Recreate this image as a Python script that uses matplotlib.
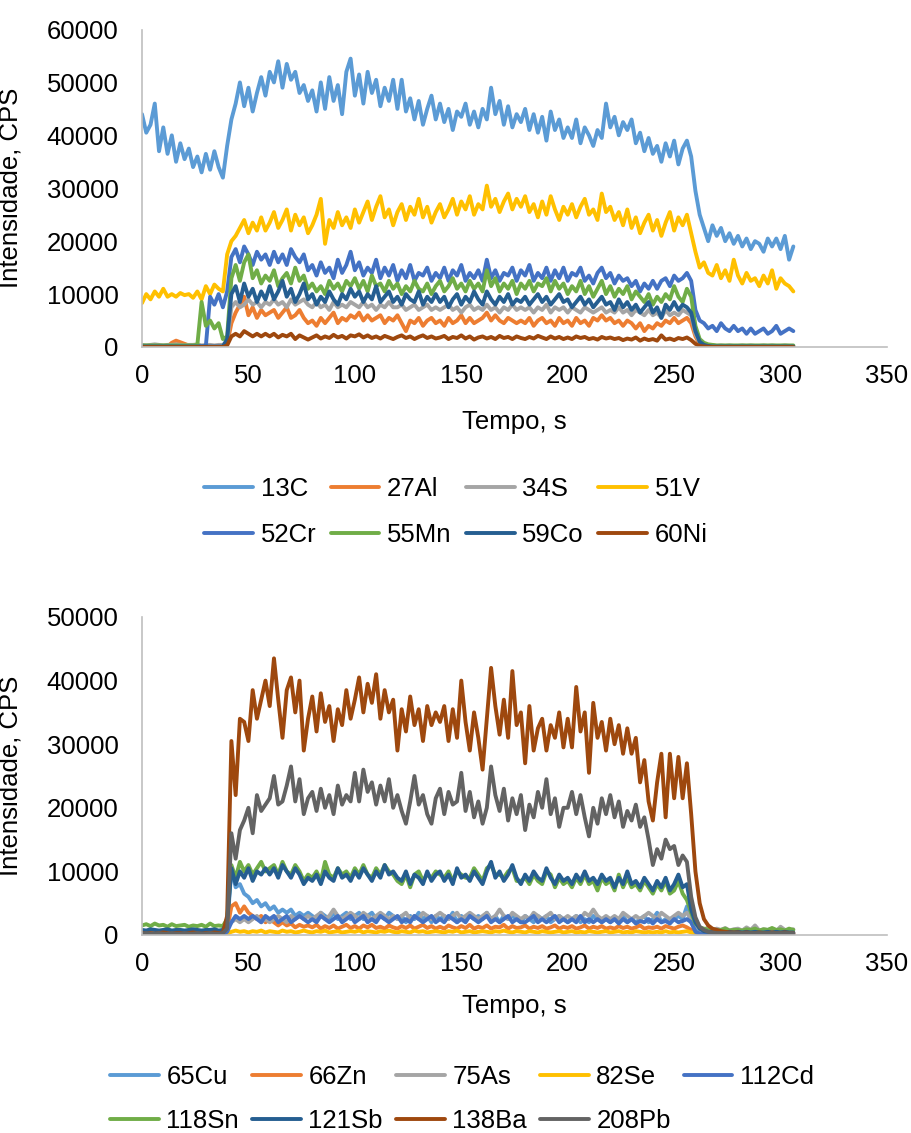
import numpy as np
import matplotlib
matplotlib.use("Agg")
import matplotlib.pyplot as plt

plt.rcParams['font.family'] = ['Liberation Sans', 'DejaVu Sans']

# Acquisition time (s), one reading every 2 s
time_s = np.arange(0, 307, 2)
KCPS = 1000  # values below are stored in thousands of counts per second

# ---------------- Panel 1 -----------------
c13 = [44.0, 40.5, 42.0, 46.0, 37.0, 41.5, 36.5, 40.0, 35.0, 38.5,
       35.5, 37.5, 34.0, 36.0, 33.0, 36.5, 33.5, 37.0, 34.0, 32.0,
       38.0, 43.0, 46.0, 50.0, 45.5, 49.0, 44.5, 48.0, 51.0, 47.5,
       52.0, 50.0, 54.0, 49.0, 53.5, 50.5, 52.0, 48.0, 49.5, 46.5,
       48.5, 44.5, 50.0, 45.0, 51.0, 46.5, 49.5, 44.0, 52.0, 54.5,
       47.5, 51.5, 46.0, 52.0, 48.0, 50.5, 45.5, 49.0, 46.5, 50.5,
       45.0, 50.5, 44.5, 47.0, 43.0, 46.5, 42.0, 45.0, 47.5, 43.0,
       46.0, 42.5, 45.0, 41.0, 44.5, 43.5, 46.0, 42.0, 44.5, 41.5,
       45.0, 43.0, 49.0, 44.0, 46.5, 42.0, 45.5, 41.5, 44.0, 42.5,
       45.0, 41.0, 44.0, 40.5, 43.5, 39.0, 44.5, 41.0, 43.0, 39.5,
       41.5, 39.5, 43.0, 38.5, 41.5, 40.0, 38.0, 41.0, 39.5, 46.0,
       41.5, 43.5, 40.0, 42.5, 41.0, 43.0, 38.5, 40.5, 37.0, 39.5,
       36.5, 38.0, 35.0, 38.5, 36.0, 39.0, 34.5, 37.5, 39.0, 36.0,
       29.5, 25.0, 22.5, 20.0, 23.0, 21.0, 22.5, 20.0, 21.5, 19.5,
       21.0, 19.0, 20.5, 18.5, 20.0, 19.5, 18.0, 20.5, 19.0, 20.5,
       18.5, 21.0, 16.5, 19.0]

al27 = [0.1, 0.1, 0.1, 0.1, 0.1, 0.1, 0.1, 0.8, 1.2, 0.9,
        0.6, 0.3, 0.2, 0.1, 0.1, 0.1, 0.1, 0.1, 0.1, 0.1,
        0.5, 4.5, 6.5, 8.0, 9.5, 6.0, 7.5, 5.5, 7.0, 6.0,
        6.5, 7.0, 5.5, 6.5, 7.5, 5.5, 6.0, 7.0, 5.5, 4.5,
        5.0, 4.0, 5.5, 4.5, 5.5, 6.5, 4.5, 5.5, 5.0, 6.0,
        5.5, 6.5, 5.0, 6.0, 5.0, 5.5, 6.0, 4.5, 5.5, 5.0,
        6.0, 4.5, 3.0, 5.0, 4.5, 5.5, 4.0, 5.0, 5.5, 4.5,
        5.0, 4.0, 5.5, 4.5, 5.0, 6.0, 4.5, 5.5, 4.5, 5.0,
        5.5, 6.5, 5.0, 6.0, 5.0, 4.5, 5.5, 5.0, 4.5, 5.0,
        4.5, 5.5, 4.0, 5.0, 5.5, 4.5, 5.0, 4.0, 5.5, 4.5,
        5.0, 4.0, 5.5, 4.5, 5.0, 4.0, 5.5, 5.0, 6.0, 5.0,
        5.5, 4.5, 5.0, 4.0, 5.0, 4.5, 3.5, 4.5, 3.0, 4.0,
        3.5, 4.5, 4.0, 5.0, 4.5, 5.5, 4.5, 5.0, 5.5, 4.5,
        2.0, 0.5, 0.2, 0.1, 0.1, 0.1, 0.1, 0.1, 0.1, 0.1,
        0.1, 0.1, 0.1, 0.1, 0.1, 0.1, 0.1, 0.1, 0.1, 0.1,
        0.1, 0.1, 0.1, 0.1]

s34 = [0.4, 0.3, 0.4, 0.5, 0.4, 0.3, 0.4, 0.4, 0.5, 0.4,
       0.3, 0.4, 0.4, 0.5, 0.3, 0.4, 0.4, 0.3, 0.4, 0.4,
       1.0, 7.5, 8.5, 7.5, 8.0, 9.0, 8.0, 8.5, 7.5, 8.5,
       8.0, 9.0, 8.0, 8.5, 7.5, 9.0, 8.0, 8.5, 9.0, 8.0,
       7.5, 8.5, 7.5, 8.0, 7.0, 8.5, 7.5, 8.0, 7.5, 8.5,
       8.0, 7.5, 8.5, 7.5, 8.0, 7.0, 8.0, 7.5, 8.5, 7.5,
       7.5, 8.0, 7.0, 7.5, 8.0, 7.0, 7.5, 8.0, 7.0, 7.5,
       7.0, 7.5, 8.0, 7.0, 7.5, 6.5, 7.5, 8.0, 7.0, 7.5,
       7.0, 8.0, 7.0, 7.5, 6.5, 7.5, 7.0, 8.0, 7.0, 7.5,
       7.0, 7.5, 6.5, 7.5, 7.0, 8.0, 6.5, 7.5, 7.0, 7.5,
       6.5, 7.5, 7.0, 6.5, 7.5, 7.0, 6.5, 7.0, 7.5, 6.5,
       7.0, 6.5, 7.5, 6.5, 7.0, 6.0, 7.0, 6.5, 6.0, 7.0,
       6.0, 6.5, 5.5, 7.0, 6.0, 6.5, 6.0, 7.0, 6.5, 6.0,
       2.5, 0.8, 0.4, 0.3, 0.3, 0.2, 0.3, 0.2, 0.3, 0.2,
       0.2, 0.3, 0.2, 0.3, 0.2, 0.2, 0.3, 0.2, 0.3, 0.2,
       0.2, 0.3, 0.2, 0.2]

v51 = [8.3, 10.0, 9.0, 10.5, 9.5, 11.0, 9.5, 10.0, 9.5, 10.2,
       9.8, 10.0, 9.3, 10.5, 9.0, 11.5, 10.0, 11.8, 11.0, 10.5,
       17.5, 20.0, 21.0, 22.5, 24.0, 21.5, 23.5, 22.0, 24.5, 22.0,
       23.5, 25.5, 22.5, 24.0, 26.0, 22.0, 25.0, 23.0, 24.5, 21.5,
       23.0, 25.0, 28.0, 19.5, 24.0, 22.5, 25.5, 23.0, 24.5, 22.5,
       26.0, 23.5, 25.5, 27.5, 24.0, 26.5, 28.5, 24.5, 26.0, 23.0,
       25.5, 27.0, 24.0, 26.5, 25.0, 28.0, 24.5, 26.5, 23.5, 25.5,
       27.0, 24.5, 26.0, 28.0, 25.0, 27.5, 26.0, 28.5, 25.0, 27.0,
       26.0, 30.5, 26.5, 28.0, 25.5, 27.5, 29.0, 26.0, 28.0, 26.5,
       28.5, 25.5, 27.0, 24.5, 27.5, 25.0, 28.5, 26.0, 24.0, 26.5,
       25.0, 27.0, 24.5, 26.5, 28.0, 25.0, 26.0, 24.0, 29.0, 25.5,
       26.5, 24.0, 25.5, 23.0, 26.0, 22.5, 24.5, 21.5, 23.5, 25.0,
       22.0, 24.0, 21.0, 23.5, 25.5, 22.0, 24.5, 23.0, 25.0, 21.5,
       18.0, 15.0, 16.0, 14.0, 13.5, 15.5, 13.0, 14.5, 12.5, 16.5,
       13.5, 12.0, 14.0, 12.5, 13.0, 11.5, 13.5, 12.0, 14.5, 11.0,
       13.0, 12.0, 11.5, 10.5]

cr52 = [0.2, 0.2, 0.1, 0.2, 0.2, 0.1, 0.2, 0.2, 0.1, 0.2,
        0.2, 0.1, 0.2, 0.2, 0.1, 0.2, 9.5, 8.0, 10.0, 7.5,
        10.5, 17.0, 18.5, 16.0, 19.0, 17.5, 15.5, 18.0, 16.5, 17.5,
        15.5, 18.0, 16.0, 17.5, 15.5, 18.5, 17.0, 16.0, 17.5, 14.5,
        15.5, 13.5, 16.0, 14.0, 15.0, 13.0, 16.5, 14.0, 15.5, 18.0,
        14.5, 16.0, 13.5, 15.0, 14.0, 16.5, 13.0, 15.0, 13.5, 15.5,
        12.5, 14.5, 13.0, 15.5, 12.5, 14.0, 13.5, 15.0, 12.5, 14.0,
        13.0, 15.0, 12.5, 14.5, 13.5, 15.5, 12.5, 14.0, 13.0, 14.5,
        12.5, 16.5, 13.0, 14.5, 12.5, 14.0, 13.5, 15.0, 12.5, 14.5,
        13.5, 15.5, 12.5, 14.0, 13.0, 15.0, 12.5, 14.5, 13.0, 15.0,
        12.5, 14.0, 13.5, 15.0, 12.5, 13.5, 12.0, 14.0, 15.0, 13.0,
        14.0, 12.0, 13.5, 12.5, 13.0, 11.5, 12.5, 10.5, 12.0, 11.0,
        12.5, 11.0, 12.5, 13.0, 11.5, 13.5, 12.5, 13.0, 14.0, 12.5,
        7.0, 5.0, 4.5, 3.5, 4.0, 3.0, 4.5, 3.5, 3.0, 4.0,
        3.0, 3.5, 2.5, 3.5, 2.5, 3.0, 3.5, 2.5, 3.0, 4.0,
        2.5, 3.0, 3.5, 3.0]

mn55 = [0.3, 0.3, 0.3, 0.3, 0.3, 0.3, 0.3, 0.3, 0.3, 0.3,
        0.3, 0.3, 0.3, 0.4, 8.5, 4.0, 5.0, 3.5, 4.5, 1.5,
        2.0, 13.0, 15.5, 12.5, 16.0, 17.5, 13.0, 14.5, 12.0, 13.5,
        12.5, 14.5, 11.5, 13.0, 14.0, 12.0, 15.0, 12.5, 13.5, 11.0,
        12.0, 10.5, 11.5, 10.0, 12.5, 11.0, 12.0, 10.5, 12.5, 11.5,
        13.0, 11.0, 12.5, 10.5, 13.5, 11.5, 12.0, 10.5, 12.5, 11.0,
        12.0, 10.0, 11.5, 10.5, 12.5, 11.0, 10.5, 12.0, 10.0, 11.5,
        12.5, 10.5, 11.5, 13.0, 11.0, 12.0, 10.5, 12.5, 11.0, 12.0,
        10.5, 14.5, 11.5, 13.0, 10.5, 12.0, 11.0, 12.5, 10.0, 12.0,
        11.0, 12.5, 10.5, 12.0, 11.5, 13.0, 10.5, 12.5, 11.0, 12.0,
        10.0, 11.5, 10.5, 12.5, 10.0, 11.5, 9.5, 11.0, 12.5, 10.0,
        11.5, 9.5, 11.0, 10.0, 11.5, 9.0, 10.5, 9.5, 8.5, 10.0,
        8.0, 9.5, 8.5, 10.0, 9.0, 11.5, 9.5, 8.5, 11.0, 9.5,
        4.0, 1.5, 0.8, 0.5, 0.4, 0.3, 0.3, 0.3, 0.3, 0.3,
        0.3, 0.3, 0.3, 0.3, 0.3, 0.3, 0.3, 0.3, 0.3, 0.3,
        0.3, 0.3, 0.3, 0.3]

co59 = [0.1, 0.1, 0.1, 0.1, 0.1, 0.1, 0.1, 0.1, 0.1, 0.1,
        0.1, 0.1, 0.1, 0.1, 0.1, 0.1, 0.1, 0.1, 0.1, 0.1,
        1.5, 10.0, 11.5, 8.5, 12.0, 9.5, 11.0, 8.5, 10.5, 9.0,
        11.5, 9.0, 10.5, 12.5, 9.5, 11.0, 8.5, 10.0, 12.0, 9.0,
        10.0, 8.0, 9.5, 8.5, 10.5, 9.0, 8.0, 10.0, 9.0, 11.0,
        9.5, 10.5, 8.5, 10.0, 9.0, 11.5, 8.5, 9.5, 10.5, 8.5,
        9.5, 8.0, 10.0, 9.0, 8.5, 10.5, 8.0, 9.5, 8.5, 10.0,
        8.5, 9.5, 7.5, 9.0, 10.0, 8.0, 9.5, 8.5, 10.5, 9.0,
        8.0, 10.5, 9.0, 8.0, 9.5, 8.5, 10.0, 8.0, 9.0, 8.5,
        9.5, 8.0, 9.0, 10.0, 8.5, 9.5, 8.0, 9.0, 10.0, 8.5,
        9.0, 7.5, 8.5, 9.5, 8.0, 9.0, 7.5, 8.5, 9.5, 8.0,
        8.5, 7.0, 9.0, 7.5, 8.5, 7.0, 8.0, 6.5, 7.5, 8.5,
        6.5, 7.5, 5.5, 8.0, 7.0, 8.5, 7.0, 8.0, 7.5, 6.5,
        3.0, 1.0, 0.4, 0.2, 0.1, 0.1, 0.1, 0.1, 0.1, 0.1,
        0.1, 0.1, 0.1, 0.1, 0.1, 0.1, 0.1, 0.1, 0.1, 0.1,
        0.1, 0.1, 0.1, 0.1]

ni60 = [0.0, 0.0, 0.0, 0.0, 0.0, 0.0, 0.0, 0.0, 0.0, 0.0,
        0.0, 0.0, 0.0, 0.0, 0.0, 0.0, 0.0, 0.0, 0.0, 0.0,
        0.3, 2.0, 2.5, 2.0, 3.0, 2.5, 2.0, 2.5, 2.0, 2.5,
        2.0, 2.5, 1.8, 2.3, 2.0, 2.5, 1.5, 2.2, 1.8, 1.4,
        1.8, 2.2, 1.6, 2.0, 1.7, 2.3, 1.8, 2.1, 1.6, 2.2,
        2.0, 2.4, 1.8, 2.2, 1.7, 2.0, 1.6, 2.1, 1.8, 1.5,
        1.9, 2.2, 1.7, 2.0, 1.5, 1.9, 2.2, 1.7, 2.0, 1.6,
        1.8, 2.1, 1.5, 1.9, 1.7, 2.2, 1.6, 2.0, 1.4, 1.8,
        2.0, 1.6, 1.9, 1.5, 2.1, 1.7, 1.9, 1.5, 2.0, 1.7,
        1.5, 1.9, 1.6, 2.1, 1.8, 1.5, 2.0, 1.6, 1.9, 1.5,
        1.8, 1.5, 2.0, 1.7, 1.9, 1.5, 1.7, 1.4, 1.9, 1.6,
        1.8, 1.5, 1.7, 1.3, 1.6, 1.4, 1.8, 1.2, 1.6, 1.3,
        1.5, 1.2, 2.2, 1.4, 1.6, 1.3, 1.7, 1.5, 1.8, 1.3,
        0.6, 0.2, 0.1, 0.05, 0.0, 0.0, 0.0, 0.0, 0.0, 0.0,
        0.0, 0.0, 0.0, 0.0, 0.0, 0.0, 0.0, 0.0, 0.0, 0.0,
        0.0, 0.0, 0.0, 0.0]

# ---------------- Panel 2 -----------------
cu65 = [0.2, 0.1, 0.2, 0.2, 0.1, 0.2, 0.2, 0.1, 0.2, 0.2,
        0.2, 0.1, 0.2, 0.2, 0.1, 0.2, 0.2, 0.1, 0.2, 0.2,
        1.0, 10.5, 7.5, 8.0, 6.5, 6.0, 5.0, 5.5, 4.5, 5.0,
        4.0, 4.5, 3.5, 4.0, 3.5, 4.0, 3.0, 3.5, 3.0, 3.5,
        3.0, 2.5, 3.5, 3.0, 2.5, 3.5, 2.5, 3.0, 3.5, 2.5,
        3.0, 3.5, 2.5, 3.0, 3.5, 2.5, 3.0, 2.5, 3.5, 3.0,
        2.5, 3.0, 2.0, 3.0, 2.5, 3.5, 2.5, 3.0, 2.0, 3.0,
        2.5, 3.0, 2.5, 3.5, 2.0, 3.0, 2.5, 3.0, 2.5, 3.0,
        2.5, 3.5, 2.5, 3.0, 2.0, 3.0, 2.5, 3.0, 2.5, 2.0,
        3.0, 2.5, 2.0, 3.0, 2.5, 3.0, 2.0, 2.5, 3.0, 2.5,
        2.0, 2.5, 3.0, 2.0, 2.5, 2.0, 3.0, 2.5, 2.0, 2.5,
        2.0, 2.5, 2.0, 3.0, 2.0, 2.5, 2.0, 2.5, 3.0, 2.0,
        2.5, 3.5, 2.0, 2.5, 2.0, 2.5, 3.0, 2.5, 4.5, 2.0,
        0.8, 0.3, 0.2, 0.2, 0.1, 0.2, 0.1, 0.2, 0.1, 0.1,
        0.1, 0.1, 0.1, 0.1, 0.1, 0.1, 0.1, 0.1, 0.1, 0.1,
        0.1, 0.1, 0.1, 0.1]

zn66 = [0.3, 0.2, 0.3, 0.3, 0.2, 0.3, 0.4, 0.3, 0.2, 0.3,
        0.3, 0.2, 0.3, 0.4, 0.3, 0.2, 0.3, 0.3, 0.2, 0.3,
        0.8, 4.5, 5.0, 3.5, 4.5, 3.5, 3.0, 2.5, 3.0, 2.0,
        2.5, 2.0, 1.5, 2.0, 1.5, 1.8, 1.2, 1.6, 1.3, 1.5,
        1.2, 1.6, 1.0, 1.4, 1.1, 1.5, 1.0, 1.3, 1.6, 1.1,
        1.4, 1.0, 1.5, 1.2, 1.6, 1.1, 1.3, 1.0, 1.5, 1.2,
        1.0, 1.4, 1.1, 1.5, 1.0, 1.3, 1.6, 1.1, 1.4, 1.0,
        1.3, 1.0, 1.5, 1.2, 1.0, 1.4, 1.1, 1.6, 1.0, 1.3,
        1.1, 1.5, 1.0, 1.3, 1.2, 1.6, 1.0, 1.4, 1.1, 1.2,
        1.5, 1.0, 1.3, 1.1, 1.4, 1.0, 1.2, 1.5, 1.0, 1.3,
        1.1, 1.4, 1.0, 1.2, 1.5, 1.0, 1.3, 1.1, 1.4, 1.0,
        1.2, 1.0, 1.4, 1.1, 1.3, 1.0, 1.2, 1.5, 1.0, 1.2,
        1.1, 1.3, 1.0, 1.4, 1.2, 1.0, 1.3, 1.5, 1.2, 0.8,
        0.4, 0.2, 0.2, 0.2, 0.2, 0.2, 0.2, 0.2, 0.2, 0.2,
        0.2, 0.2, 0.2, 0.2, 0.2, 0.2, 0.2, 0.2, 0.2, 0.2,
        0.2, 0.2, 0.2, 0.2]

as75 = [0.6, 0.5, 0.7, 0.6, 0.5, 0.7, 0.6, 0.5, 0.6, 0.7,
        0.6, 0.5, 0.7, 0.6, 0.5, 0.7, 0.6, 0.5, 0.6, 0.7,
        1.0, 2.0, 2.5, 2.0, 2.5, 2.0, 2.5, 3.0, 2.0, 2.5,
        2.0, 2.5, 3.0, 2.5, 2.0, 3.0, 2.5, 3.0, 2.5, 3.0,
        2.5, 3.0, 3.5, 2.5, 3.0, 4.0, 3.0, 2.5, 3.0, 3.5,
        3.0, 2.5, 3.5, 3.0, 2.5, 3.0, 3.5, 3.0, 2.5, 3.0,
        2.5, 3.0, 3.5, 2.5, 3.0, 2.5, 3.5, 3.0, 2.5, 3.0,
        3.5, 3.0, 2.5, 3.0, 3.5, 2.5, 3.0, 3.5, 3.0, 2.5,
        3.0, 3.5, 2.5, 3.0, 4.0, 3.0, 2.5, 3.5, 3.0, 2.5,
        3.0, 2.5, 3.5, 3.0, 2.5, 3.0, 3.5, 2.5, 3.0, 2.5,
        3.0, 2.5, 3.0, 2.5, 3.5, 3.0, 4.0, 3.0, 2.5, 3.0,
        2.5, 3.0, 2.5, 3.5, 3.0, 2.5, 3.0, 2.5, 3.0, 3.5,
        3.0, 2.5, 3.5, 3.0, 2.5, 3.0, 3.5, 3.0, 3.5, 2.5,
        1.5, 1.0, 0.8, 1.2, 0.7, 1.0, 0.8, 1.1, 0.7, 0.9,
        1.0, 0.7, 1.2, 0.8, 1.5, 0.7, 0.9, 0.8, 1.0, 0.6,
        1.3, 0.8, 0.7, 0.9]

se82 = [0.0, 0.0, 0.0, 0.0, 0.0, 0.0, 0.0, 0.0, 0.0, 0.0,
        0.0, 0.0, 0.0, 0.0, 0.0, 0.0, 0.0, 0.0, 0.0, 0.0,
        0.2, 0.5, 0.7, 0.5, 0.6, 0.4, 0.6, 0.5, 0.7, 0.4,
        0.6, 0.5, 0.4, 0.7, 0.5, 0.6, 0.4, 0.5, 0.7, 0.5,
        0.4, 0.6, 0.5, 0.7, 0.4, 0.5, 0.6, 0.4, 0.5, 0.6,
        0.5, 0.7, 0.4, 0.6, 0.5, 0.4, 0.6, 0.5, 0.7, 0.5,
        0.4, 0.6, 0.5, 0.4, 0.7, 0.5, 0.6, 0.4, 0.5, 0.6,
        0.5, 0.4, 0.6, 0.5, 0.7, 0.4, 0.5, 0.6, 0.4, 0.5,
        0.6, 0.5, 0.4, 0.6, 0.5, 0.7, 0.5, 0.4, 0.6, 0.5,
        0.4, 0.6, 0.5, 0.4, 0.6, 0.5, 0.4, 0.5, 0.6, 0.4,
        0.5, 0.6, 0.4, 0.5, 0.4, 0.6, 0.5, 0.4, 0.5, 0.6,
        0.4, 0.5, 0.6, 0.4, 0.5, 0.4, 0.6, 0.5, 0.4, 0.5,
        0.4, 0.5, 0.4, 0.6, 0.4, 0.5, 0.4, 0.5, 0.6, 0.4,
        0.2, 0.1, 0.0, 0.0, 0.0, 0.0, 0.0, 0.0, 0.0, 0.0,
        0.0, 0.0, 0.0, 0.0, 0.0, 0.0, 0.0, 0.0, 0.0, 0.0,
        0.0, 0.0, 0.0, 0.0]

cd112 = [0.1, 0.1, 0.1, 0.1, 0.1, 0.1, 0.1, 0.1, 0.1, 0.1,
         0.1, 0.1, 0.1, 0.1, 0.1, 0.1, 0.1, 0.1, 0.1, 0.1,
         0.5, 2.0, 3.0, 2.5, 3.0, 2.5, 3.0, 2.5, 2.0, 3.0,
         2.5, 3.0, 2.0, 2.5, 3.0, 2.0, 2.5, 3.0, 2.5, 2.0,
         2.5, 2.0, 3.0, 2.5, 2.0, 2.5, 3.0, 2.0, 2.5, 3.0,
         2.0, 2.5, 3.0, 2.0, 2.5, 2.0, 3.0, 2.5, 2.0, 2.5,
         3.0, 2.0, 2.5, 2.0, 3.0, 2.5, 2.0, 2.5, 3.0, 2.0,
         2.5, 2.0, 3.0, 2.5, 2.0, 2.5, 2.0, 3.0, 2.5, 2.0,
         2.5, 3.0, 2.0, 2.5, 2.0, 2.5, 3.0, 2.0, 2.5, 2.0,
         2.0, 2.5, 3.0, 2.0, 2.5, 2.0, 2.5, 3.0, 2.0, 2.5,
         2.0, 2.5, 2.0, 3.0, 2.0, 2.5, 2.0, 2.5, 2.0, 2.5,
         2.0, 2.5, 1.8, 2.5, 2.0, 2.5, 1.8, 2.2, 2.0, 2.5,
         1.8, 2.5, 2.0, 2.2, 1.8, 2.5, 2.0, 2.2, 2.5, 2.0,
         0.5, 0.2, 0.1, 0.1, 0.1, 0.1, 0.1, 0.1, 0.1, 0.1,
         0.1, 0.1, 0.1, 0.1, 0.1, 0.1, 0.1, 0.1, 0.1, 0.1,
         0.1, 0.1, 0.1, 0.1]

sn118 = [1.5, 1.7, 1.4, 1.8, 1.5, 1.6, 1.3, 1.7, 1.4, 1.5,
         1.6, 1.3, 1.5, 1.4, 1.6, 1.3, 1.8, 1.4, 1.5, 1.4,
         2.5, 11.0, 9.0, 11.5, 10.0, 11.0, 9.5, 10.5, 11.5, 10.0,
         10.5, 11.0, 9.5, 11.5, 10.0, 9.5, 11.0, 10.0, 8.5, 9.5,
         9.0, 10.0, 8.5, 11.5, 9.5, 9.0, 10.5, 9.5, 10.0, 9.0,
         10.5, 9.5, 11.0, 9.5, 9.0, 10.5, 9.5, 11.0, 10.0, 9.5,
         8.5, 8.0, 9.5, 7.5, 9.5, 10.0, 8.5, 9.5, 9.0, 10.0,
         9.5, 9.0, 10.0, 8.5, 10.0, 9.5, 9.0, 9.0, 10.5, 9.5,
         8.5, 10.5, 11.0, 9.5, 9.5, 9.0, 10.0, 10.5, 8.5, 8.5,
         9.0, 8.0, 9.5, 8.5, 8.0, 10.0, 9.5, 7.5, 9.0, 8.0,
         8.5, 7.5, 9.0, 8.0, 9.5, 8.0, 8.5, 7.0, 9.0, 8.0,
         8.5, 7.0, 9.5, 7.5, 9.0, 7.5, 8.0, 7.0, 8.5, 7.5,
         6.5, 8.0, 7.0, 8.5, 6.5, 7.0, 8.5, 6.5, 5.5, 3.5,
         1.8, 1.2, 1.0, 0.8, 0.9, 0.7, 0.8, 1.0, 0.7, 0.8,
         0.8, 0.7, 0.9, 0.8, 1.0, 0.7, 0.9, 0.8, 1.1, 0.8,
         0.9, 0.7, 1.0, 0.8]

sb121 = [0.8, 0.7, 0.9, 0.8, 0.7, 0.8, 0.9, 0.7, 0.8, 0.8,
         0.7, 0.8, 0.9, 0.8, 0.7, 0.8, 0.8, 0.9, 0.7, 0.8,
         2.0, 10.5, 8.0, 10.0, 9.0, 10.5, 8.5, 10.0, 9.5, 10.5,
         9.5, 10.5, 9.0, 11.0, 10.0, 9.0, 10.5, 9.5, 8.0, 9.0,
         8.5, 9.5, 8.0, 10.0, 9.0, 8.5, 10.5, 9.0, 9.5, 8.5,
         10.0, 9.0, 10.5, 9.5, 8.5, 10.0, 9.0, 11.0, 9.5, 10.0,
         9.0, 8.5, 10.0, 8.0, 9.5, 9.0, 8.0, 10.0, 8.5, 9.5,
         10.0, 8.5, 9.5, 8.0, 10.5, 9.0, 9.5, 8.5, 10.0, 9.0,
         8.0, 10.0, 11.5, 9.0, 10.0, 8.5, 9.5, 11.0, 9.0, 8.0,
         9.5, 8.5, 10.0, 9.0, 8.5, 10.5, 9.0, 8.0, 9.5, 8.5,
         9.0, 8.0, 9.5, 8.5, 10.0, 8.5, 9.0, 8.0, 9.5, 8.5,
         9.0, 7.5, 9.0, 8.0, 10.0, 8.0, 8.5, 7.5, 9.0, 8.0,
         7.0, 8.5, 7.5, 9.0, 7.0, 8.0, 9.5, 7.5, 8.0, 4.0,
         2.0, 1.0, 0.6, 0.5, 0.5, 0.4, 0.5, 0.4, 0.5, 0.4,
         0.5, 0.4, 0.5, 0.4, 0.5, 0.4, 0.4, 0.5, 0.4, 0.5,
         0.4, 0.5, 0.4, 0.4]

ba138 = [0.3, 0.2, 0.3, 0.2, 0.3, 0.4, 0.3, 0.2, 0.3, 0.3,
         0.2, 0.3, 0.4, 0.3, 0.2, 0.3, 0.3, 0.4, 0.3, 0.3,
         3.0, 30.5, 22.0, 34.0, 33.5, 30.5, 38.5, 34.0, 37.0, 40.0,
         36.0, 43.5, 37.0, 31.0, 38.5, 40.5, 35.0, 40.0, 29.0, 34.0,
         37.5, 32.0, 38.0, 33.5, 36.0, 30.5, 35.5, 33.0, 38.5, 34.0,
         37.0, 40.5, 35.0, 39.5, 36.5, 41.0, 34.0, 38.5, 35.0, 37.0,
         29.0, 35.5, 32.0, 37.5, 33.0, 35.5, 30.5, 36.0, 33.0, 35.0,
         33.5, 36.0, 30.5, 35.5, 31.0, 40.0, 33.5, 29.0, 35.0, 31.0,
         26.0, 34.0, 42.0, 36.0, 31.5, 37.0, 31.0, 41.5, 33.0, 35.0,
         27.0, 36.0, 29.0, 32.5, 34.0, 29.0, 33.0, 31.0, 35.0, 29.5,
         34.0, 29.5, 39.0, 32.0, 35.0, 25.5, 36.5, 31.0, 33.5, 29.0,
         34.0, 30.0, 33.0, 28.5, 32.5, 28.5, 31.0, 24.0, 27.5, 21.0,
         18.0, 24.0, 28.5, 18.5, 28.5, 21.5, 28.0, 21.5, 27.0, 19.0,
         10.0, 5.0, 2.5, 1.5, 1.0, 0.8, 0.6, 0.5, 0.4, 0.4,
         0.4, 0.3, 0.4, 0.3, 0.3, 0.4, 0.3, 0.3, 0.4, 0.3,
         0.3, 0.4, 0.3, 0.3]

pb208 = [0.2, 0.3, 0.2, 0.2, 0.3, 0.2, 0.2, 0.3, 0.2, 0.2,
         0.3, 0.2, 0.2, 0.3, 0.2, 0.2, 0.3, 0.2, 0.2, 0.3,
         1.0, 16.0, 12.0, 16.5, 18.0, 20.0, 16.0, 22.0, 19.5, 20.5,
         21.5, 25.0, 20.5, 21.0, 23.5, 26.5, 21.0, 24.5, 19.0, 21.5,
         22.5, 19.5, 23.0, 20.0, 22.0, 19.0, 23.5, 20.5, 22.0, 21.0,
         25.5, 21.0, 26.0, 22.5, 24.0, 20.5, 23.5, 21.0, 24.5, 20.0,
         22.0, 19.5, 17.5, 21.0, 25.0, 20.5, 22.0, 19.0, 17.5, 21.5,
         23.0, 19.0, 22.5, 20.5, 21.0, 25.5, 19.5, 22.5, 18.5, 21.0,
         17.5, 20.0, 26.5, 22.0, 19.5, 23.0, 18.0, 21.5, 19.0, 22.0,
         16.5, 20.5, 18.5, 22.5, 20.0, 24.5, 19.0, 21.5, 17.0, 20.0,
         20.0, 22.5, 19.0, 22.0, 18.5, 15.5, 20.0, 17.5, 21.5, 19.0,
         22.0, 18.5, 21.0, 17.0, 19.5, 18.0, 20.5, 17.0, 18.5, 15.0,
         11.0, 13.5, 12.0, 15.0, 13.5, 14.0, 11.0, 12.5, 11.5, 6.0,
         2.8, 1.3, 0.8, 0.5, 0.4, 0.3, 0.3, 0.3, 0.3, 0.3,
         0.3, 0.3, 0.3, 0.3, 0.3, 0.3, 0.3, 0.3, 0.3, 0.3,
         0.3, 0.3, 0.3, 0.3]

top_names = ["13C", "27Al", "34S", "51V", "52Cr", "55Mn", "59Co", "60Ni"]
top_series = [c13, al27, s34, v51, cr52, mn55, co59, ni60]
top_colors = ["#5B9BD5", "#ED7D31", "#A5A5A5", "#FFC000",
              "#4472C4", "#70AD47", "#255E91", "#9E480E"]

bottom_names = ["65Cu", "66Zn", "75As", "82Se", "112Cd",
                "118Sn", "121Sb", "138Ba", "208Pb"]
bottom_series = [cu65, zn66, as75, se82, cd112, sn118, sb121, ba138, pb208]
bottom_colors = ["#5B9BD5", "#ED7D31", "#A5A5A5", "#FFC000", "#4472C4",
                 "#70AD47", "#255E91", "#9E480E", "#636363"]

x_ticks = [0, 50, 100, 150, 200, 250, 300, 350]
FS = 18.5
LW = 2.8

W, H = 912, 1133
fig = plt.figure(figsize=(W / 100, H / 100), dpi=100)


def px_axes(left, top, right, bottom):
    return fig.add_axes([left / W, 1 - bottom / H, (right - left) / W, (bottom - top) / H])


def style_axes(ax, ymax, ystep):
    ax.set_xlim(0, 350)
    ax.set_ylim(0, ymax)
    ax.set_xticks(x_ticks)
    ax.set_yticks(np.arange(0, ymax + 1, ystep))
    ax.set_yticklabels([str(int(v)) for v in np.arange(0, ymax + 1, ystep)])
    for side in ("top", "right"):
        ax.spines[side].set_visible(False)
    for side in ("left", "bottom"):
        ax.spines[side].set_color("#BFBFBF")
        ax.spines[side].set_linewidth(1.2)
    ax.tick_params(axis="both", length=0, labelsize=FS, colors="black")
    ax.tick_params(axis="x", pad=12)
    ax.tick_params(axis="y", pad=17)
    ax.set_xlabel("Tempo, s", fontsize=FS)
    ax.set_ylabel("Intensidade, CPS", fontsize=FS)
    ax.yaxis.set_label_coords(-0.161, 0.5)


def draw_panel(ax, names, series, colors):
    handles = []
    for name, vals, col in zip(names, series, colors):
        assert len(vals) == len(time_s), name
        (ln,) = ax.plot(time_s, np.asarray(vals) * KCPS, color=col, lw=LW,
                        solid_joinstyle="round", solid_capstyle="round", label=name)
        handles.append(ln)
    return handles


ax1 = px_axes(142, 29.5, 887, 347)
h1 = draw_panel(ax1, top_names, top_series, top_colors)
style_axes(ax1, 60000, 10000)
ax1.xaxis.set_label_coords(0.5, -0.20)

ax2 = px_axes(142, 617, 887, 935)
h2 = draw_panel(ax2, bottom_names, bottom_series, bottom_colors)
style_axes(ax2, 50000, 10000)
ax2.xaxis.set_label_coords(0.5, -0.185)


def row_major(handles, ncol):
    nrow = int(np.ceil(len(handles) / ncol))
    order = []
    for c in range(ncol):
        for r in range(nrow):
            i = r * ncol + c
            if i < len(handles):
                order.append(handles[i])
    return order


leg_kw = dict(frameon=False, fontsize=FS, handlelength=1.9, handletextpad=0.3,
              borderaxespad=0, borderpad=0)

o1 = row_major(h1, 4)
fig.legend(o1, [h.get_label() for h in o1], ncol=4, loc="center",
           bbox_to_anchor=(456 / W, 1 - 512 / H), columnspacing=0.55,
           labelspacing=0.85, **leg_kw)

o2 = row_major(h2, 5)
fig.legend(o2, [h.get_label() for h in o2], ncol=5, loc="center",
           bbox_to_anchor=(462 / W, 1 - 1099 / H), columnspacing=0.5,
           labelspacing=0.8, **leg_kw)

fig.savefig("out.png", dpi=100)
